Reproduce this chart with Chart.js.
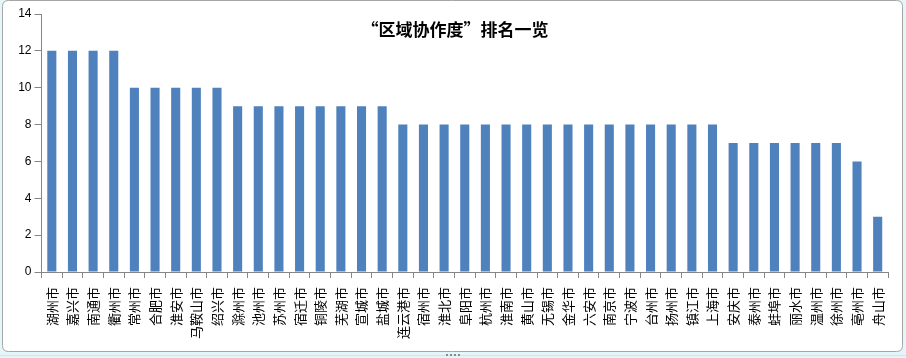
<!DOCTYPE html>
<html>
<head>
<meta charset="utf-8">
<script src="https://cdn.jsdelivr.net/npm/chart.js@4/dist/chart.umd.min.js"></script>
<style>
  html, body { margin: 0; padding: 0; background: #E4F6FA; }
  #wrap { position: relative; width: 906px; height: 358px; }
  canvas { display: block; }
</style>
</head>
<body>
<div id="wrap"><canvas id="c" width="906" height="358"></canvas></div>
<script>
const titleText = '“区域协作度”排名一览';
const categories = ['湖州市','嘉兴市','南通市','衢州市','常州市','合肥市','淮安市','马鞍山市','绍兴市','滁州市',
  '池州市','苏州市','宿迁市','铜陵市','芜湖市','宣城市','盐城市','连云港市','宿州市','淮北市',
  '阜阳市','杭州市','淮南市','黄山市','无锡市','金华市','六安市','南京市','宁波市','台州市',
  '扬州市','镇江市','上海市','安庆市','泰州市','蚌埠市','丽水市','温州市','徐州市','亳州市','舟山市'];
const values = [12,12,12,12,10,10,10,10,10,9,
  9,9,9,9,9,9,9,8,8,8,
  8,8,8,8,8,8,8,8,8,8,
  8,8,8,7,7,7,7,7,7,6,3];
const yTicks = [0,2,4,6,8,10,12,14];

const framePlugin = {
  id: 'frame',
  beforeDraw(chart) {
    const ctx = chart.ctx;
    ctx.save();
    ctx.fillStyle = '#E4F6FA';
    ctx.fillRect(0, 0, chart.width, chart.height);
    ctx.strokeStyle = '#CFE6EC';
    ctx.lineWidth = 1;
    ctx.beginPath();
    ctx.moveTo(0, 355.5); ctx.lineTo(906, 355.5);
    ctx.stroke();
    const x = 2.5, y = 0.5, w = 900, h = 351, r = 6;
    ctx.beginPath();
    ctx.moveTo(x + r, y);
    ctx.lineTo(x + w - r, y);
    ctx.quadraticCurveTo(x + w, y, x + w, y + r);
    ctx.lineTo(x + w, y + h - r);
    ctx.quadraticCurveTo(x + w, y + h, x + w - r, y + h);
    ctx.lineTo(x + r, y + h);
    ctx.quadraticCurveTo(x, y + h, x, y + h - r);
    ctx.lineTo(x, y + r);
    ctx.quadraticCurveTo(x, y, x + r, y);
    ctx.closePath();
    ctx.fillStyle = '#FFFFFF';
    ctx.fill();
    ctx.strokeStyle = '#A6A6A6';
    ctx.stroke();
    ctx.fillStyle = '#8A8A8A';
    for (let i = 0; i < 4; i++) ctx.fillRect(446 + i * 4, 354, 2, 2);
    ctx.restore();
  },
  afterDraw(chart) {
    const ctx = chart.ctx;
    ctx.save();
    ctx.font = 'bold 17px "Noto Sans CJK SC", sans-serif';
    ctx.fillStyle = '#000000';
    ctx.textAlign = 'center';
    ctx.textBaseline = 'middle';
    ctx.fillText(titleText, 455, 30);
    ctx.restore();
  }
};

new Chart(document.getElementById('c'), {
  type: 'bar',
  data: {
    labels: categories,
    datasets: [{
      data: values,
      backgroundColor: '#4F81BD',
      borderWidth: 0,
      barPercentage: 0.44,
      categoryPercentage: 1.0
    }]
  },
  options: {
    responsive: false,
    animation: false,
    events: [],
    layout: { padding: { left: 4, right: 18, top: 14, bottom: 4 } },
    plugins: { legend: { display: false }, title: { display: false }, tooltip: { enabled: false } },
    scales: {
      x: {
        grid: { display: true, drawOnChartArea: false, tickLength: 6, color: '#868686', offset: true },
        border: { display: true, color: '#868686', width: 1 },
        ticks: {
          autoSkip: false, maxRotation: 90, minRotation: 90, padding: 9,
          color: '#000000',
          font: { family: '"Noto Sans CJK SC", sans-serif', size: 13 }
        },
        afterFit(scale) { scale.height = 82; }
      },
      y: {
        min: 0, max: 14,
        afterBuildTicks(scale) { scale.ticks = yTicks.map(v => ({ value: v })); },
        grid: { display: true, drawOnChartArea: false, tickLength: 7, color: '#868686' },
        border: { display: true, color: '#868686', width: 1 },
        ticks: {
          padding: 3, color: '#000000',
          font: { family: '"Liberation Sans", Arial, sans-serif', size: 12 }
        },
        afterFit(scale) { scale.width = 37.5; }
      }
    }
  },
  plugins: [framePlugin]
});
</script>
</body>
</html>
